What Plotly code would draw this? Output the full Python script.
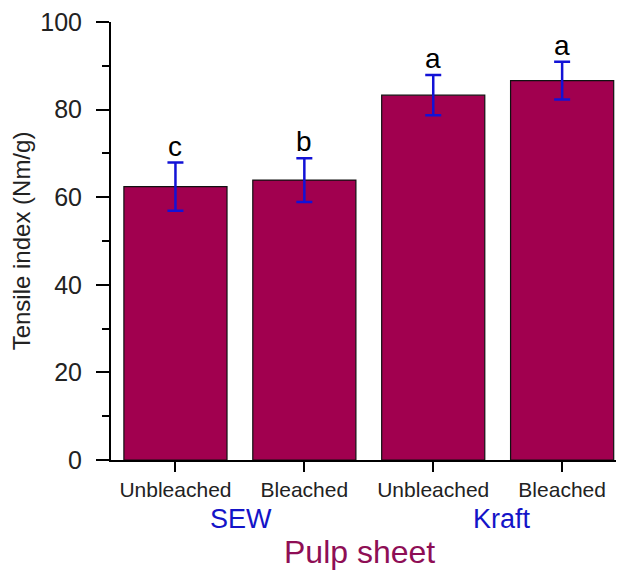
import plotly.graph_objects as go

# Data
tick_labels = ["Unbleached", "Bleached", "Unbleached", "Bleached"]
groups = ["SEW", "Kraft"]
tensile_mean = [62.4, 63.9, 83.3, 86.6]
tensile_err = [5.5, 5.0, 4.6, 4.3]
sig_letters = ["c", "b", "a", "a"]

x_pos = list(range(len(tick_labels)))

BAR_COLOR = "#A1004F"
ERR_COLOR = "#1212D6"
GROUP_COLOR = "#1414C8"
TITLE_COLOR = "#8E0E55"
FONT = "Liberation Sans, Arial, sans-serif"

fig = go.Figure()
fig.add_trace(go.Bar(
    x=x_pos, y=tensile_mean, width=0.8,
    marker=dict(color=BAR_COLOR, line=dict(color="#111111", width=1.2)),
    error_y=dict(type="data", array=tensile_err, visible=True,
                 color=ERR_COLOR, thickness=2.5, width=8),
    showlegend=False, hoverinfo="skip",
))

annotations = []
for xi, m, e, s in zip(x_pos, tensile_mean, tensile_err, sig_letters):
    annotations.append(dict(x=xi, y=m + e, xref="x", yref="y", text=s,
                            showarrow=False, yanchor="bottom", yshift=-1,
                            font=dict(family=FONT, size=28, color="black")))

# group labels centered under each pair
group_shift = [1, 4]
for gi, g in enumerate(groups):
    annotations.append(dict(x=(x_pos[2 * gi] + x_pos[2 * gi + 1]) / 2, y=-0.134,
                            xref="x", yref="paper", text=g, showarrow=False,
                            yanchor="middle", xshift=group_shift[gi],
                            font=dict(family=FONT, size=27, color=GROUP_COLOR)))
annotations.append(dict(x=0.484, y=-0.211, xref="paper", yref="paper",
                        text="Pulp sheet", showarrow=False, yanchor="middle",
                        font=dict(family=FONT, size=32, color=TITLE_COLOR)))

# page body has an 8px margin: figure sized to fill the rest of the window
fig.update_layout(
    width=616, height=563,
    margin=dict(l=103, r=0, t=12, b=111),
    paper_bgcolor="white", plot_bgcolor="white",
    font=dict(family=FONT, color="black"),
    annotations=annotations,
    xaxis=dict(range=[-0.5, 3.48], tickvals=x_pos, ticktext=tick_labels,
               showline=True, linecolor="black", linewidth=2,
               ticks="outside", ticklen=10, tickwidth=2, tickcolor="black",
               tickfont=dict(family=FONT, size=21, color="#222222"),
               showgrid=False, zeroline=False),
    yaxis=dict(range=[0, 100], tickvals=[0, 20, 40, 60, 80, 100],
               showline=True, linecolor="black", linewidth=2,
               ticks="outside", ticklen=13, tickwidth=2, tickcolor="black",
               ticklabelstandoff=9, ticklabeloverflow="allow",
               tickfont=dict(family=FONT, size=25, color="#222222"),
               minor=dict(tickvals=[10, 30, 50, 70, 90], ticks="outside",
                          ticklen=7, tickwidth=2, tickcolor="black"),
               title=dict(text="Tensile index (Nm/g)", standoff=9,
                          font=dict(family=FONT, size=24, color="#222222")),
               showgrid=False, zeroline=False),
)

fig.write_html("out.html")
